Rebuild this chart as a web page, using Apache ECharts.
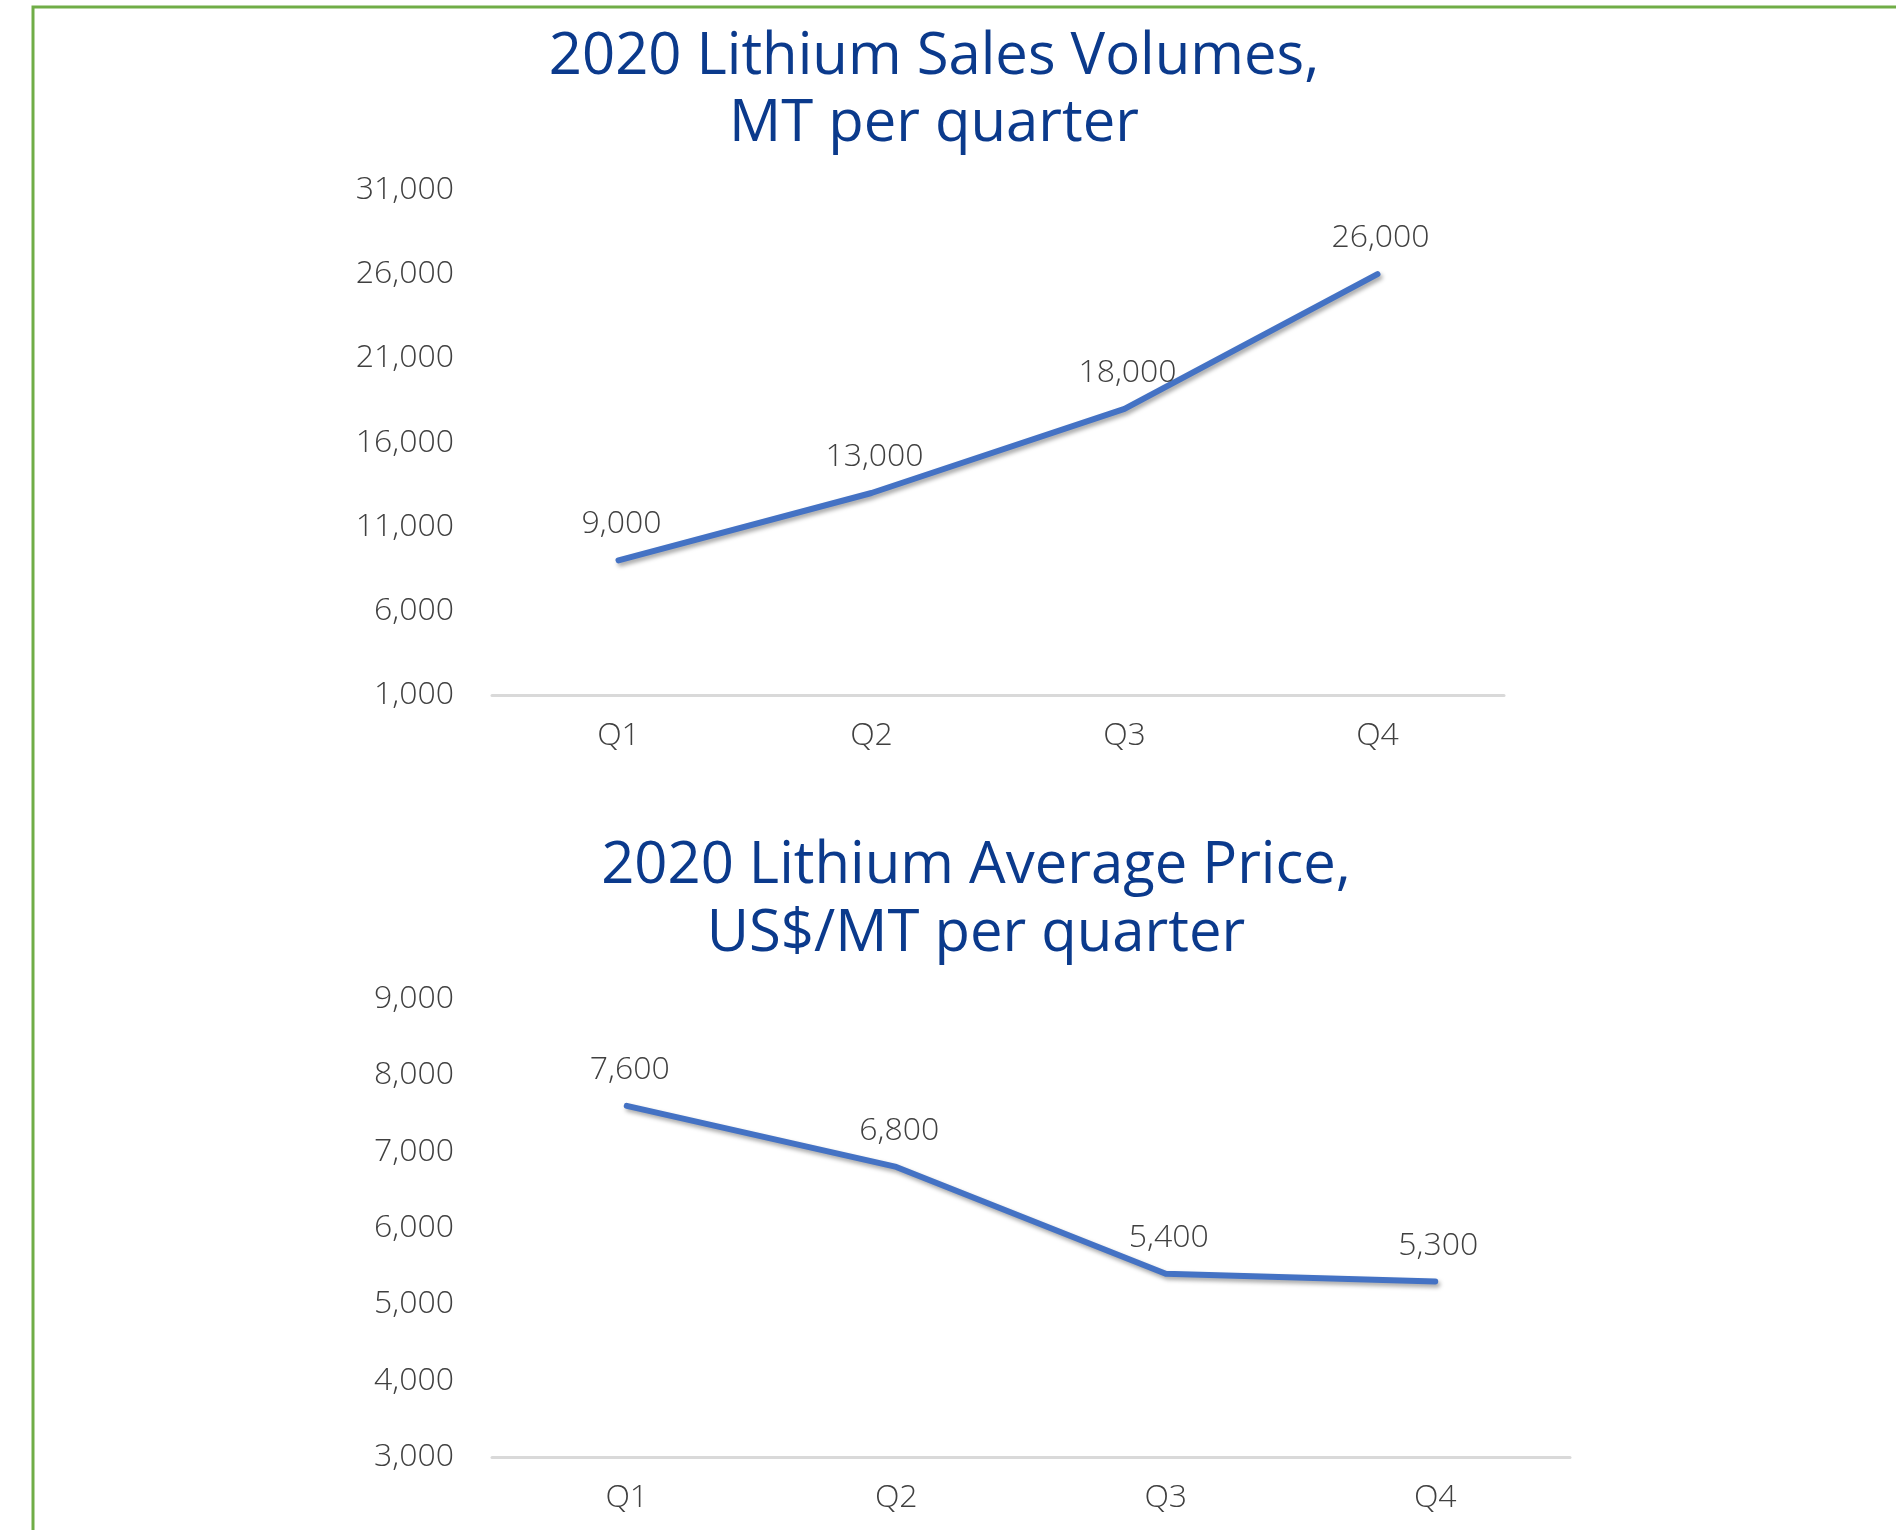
<!DOCTYPE html>
<html>
<head>
<meta charset="utf-8">
<script src="https://cdn.jsdelivr.net/npm/echarts@6/dist/echarts.min.js"></script>
<style>
html,body{margin:0;padding:0;background:#fff;}
#chart{width:1896px;height:1530px;}
</style>
</head>
<body>
<div id="chart"></div>
<script>
const quarters = ['Q1', 'Q2', 'Q3', 'Q4'];
const salesVolumes = [9000, 13000, 18000, 26000];
const avgPrice = [7600, 6800, 5400, 5300];
const volumeTitle = '2020 Lithium Sales Volumes,\nMT per quarter';
const priceTitle = '2020 Lithium Average Price,\nUS$/MT per quarter';

const FONT = '"Open Sans", "Liberation Sans", sans-serif';
const TEXT_COLOR = '#404040';
const TITLE_COLOR = '#0b3a8c';
const LINE_COLOR = '#4472C4';

function fmt(v) { return v.toLocaleString('en-US'); }

const axisLabel = { fontFamily: FONT, fontWeight: 300, fontSize: 32, color: TEXT_COLOR };

function xAxis(gi) {
  return {
    type: 'category', gridIndex: gi, data: quarters, boundaryGap: true,
    axisLine: { show: true, lineStyle: { color: '#d9d9d9', width: 3 } },
    axisTick: { show: false },
    axisLabel: Object.assign({ margin: 25 }, axisLabel)
  };
}
function yAxis(gi, min, max, interval) {
  return {
    type: 'value', gridIndex: gi, min: min, max: max, interval: interval,
    axisLine: { show: false }, axisTick: { show: false },
    splitLine: { show: false },
    axisLabel: Object.assign({ margin: 38, formatter: fmt }, axisLabel)
  };
}
function lineSeries(gi, data) {
  return {
    type: 'line', xAxisIndex: gi, yAxisIndex: gi, data: data,
    symbol: 'circle', symbolSize: 0, showSymbol: true,
    lineStyle: { color: LINE_COLOR, width: 6, cap: 'round', join: 'round',
      shadowColor: 'rgba(0,0,0,0.35)', shadowBlur: 4, shadowOffsetX: 2, shadowOffsetY: 3 },
    itemStyle: { color: LINE_COLOR },
    label: { show: true, position: 'top', distance: 20, offset: [3, 0], formatter: p => fmt(p.value),
      fontFamily: FONT, fontWeight: 300, fontSize: 32, color: TEXT_COLOR },
    animation: false
  };
}

const chart = echarts.init(document.getElementById('chart'));
chart.setOption({
  animation: false,
  title: [
    { text: volumeTitle, left: 929, top: 19, textAlign: 'center',
      textStyle: { fontFamily: FONT, fontWeight: 400, fontSize: 58, lineHeight: 67, color: TITLE_COLOR } },
    { text: priceTitle, left: 971, top: 827, textAlign: 'center',
      textStyle: { fontFamily: FONT, fontWeight: 400, fontSize: 58, lineHeight: 68, color: TITLE_COLOR } }
  ],
  grid: [
    { left: 492, right: 392, top: 190, height: 505 },
    { left: 492, right: 326, top: 999, height: 458 }
  ],
  xAxis: [xAxis(0), xAxis(1)],
  yAxis: [yAxis(0, 1000, 31000, 5000), yAxis(1, 3000, 9000, 1000)],
  series: [lineSeries(0, salesVolumes), lineSeries(1, avgPrice)],
  graphic: [{
    type: 'polyline', silent: true,
    shape: { points: [[33, 1540], [33, 7], [1900, 7]] },
    style: { stroke: '#70AD47', lineWidth: 3, fill: null }
  }]
});
</script>
</body>
</html>
